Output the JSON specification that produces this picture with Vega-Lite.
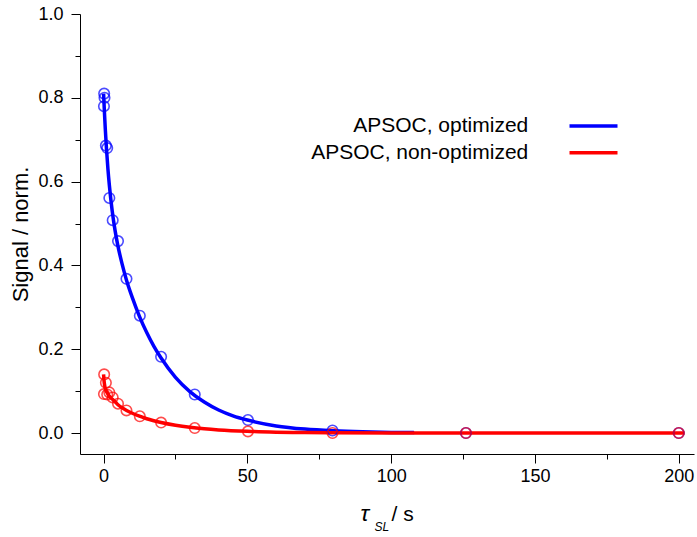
{
  "$schema": "https://vega.github.io/schema/vega-lite/v6.json",
  "autosize": {"type": "none"},
  "padding": {"left": 80, "top": 14, "right": 3, "bottom": 83},
  "width": 614,
  "height": 440,
  "background": "white",
  "config": {
    "view": {"stroke": null},
    "font": "Liberation Sans",
    "axis": {
      "domainColor": "black", "tickColor": "black", "labelColor": "black", "titleColor": "black",
      "labelFont": "Liberation Sans", "titleFont": "Liberation Sans",
      "labelFontSize": 18, "titleFontSize": 21, "titleFontWeight": "normal",
      "grid": false, "domainWidth": 1, "tickWidth": 1
    }
  },
  "datasets": {
    "fit": [
      {"t": 0, "v": 0.81, "series": "APSOC, optimized"},
      {"t": 0.3, "v": 0.765, "series": "APSOC, optimized"},
      {"t": 0.6, "v": 0.725, "series": "APSOC, optimized"},
      {"t": 1, "v": 0.679, "series": "APSOC, optimized"},
      {"t": 1.5, "v": 0.631, "series": "APSOC, optimized"},
      {"t": 2, "v": 0.592, "series": "APSOC, optimized"},
      {"t": 3, "v": 0.53, "series": "APSOC, optimized"},
      {"t": 4, "v": 0.483, "series": "APSOC, optimized"},
      {"t": 5, "v": 0.446, "series": "APSOC, optimized"},
      {"t": 6.5, "v": 0.402, "series": "APSOC, optimized"},
      {"t": 8, "v": 0.364, "series": "APSOC, optimized"},
      {"t": 10, "v": 0.323, "series": "APSOC, optimized"},
      {"t": 12.5, "v": 0.278, "series": "APSOC, optimized"},
      {"t": 15, "v": 0.24, "series": "APSOC, optimized"},
      {"t": 17.5, "v": 0.207, "series": "APSOC, optimized"},
      {"t": 20, "v": 0.179, "series": "APSOC, optimized"},
      {"t": 25, "v": 0.133, "series": "APSOC, optimized"},
      {"t": 30, "v": 0.099, "series": "APSOC, optimized"},
      {"t": 35, "v": 0.074, "series": "APSOC, optimized"},
      {"t": 40, "v": 0.055, "series": "APSOC, optimized"},
      {"t": 45, "v": 0.041, "series": "APSOC, optimized"},
      {"t": 50, "v": 0.031, "series": "APSOC, optimized"},
      {"t": 60, "v": 0.017, "series": "APSOC, optimized"},
      {"t": 70, "v": 0.0094, "series": "APSOC, optimized"},
      {"t": 80, "v": 0.0053, "series": "APSOC, optimized"},
      {"t": 90, "v": 0.0029, "series": "APSOC, optimized"},
      {"t": 100, "v": 0.0016, "series": "APSOC, optimized"},
      {"t": 108, "v": 0.001, "series": "APSOC, optimized"},
      {"t": 0, "v": 0.14, "series": "APSOC, non-optimized"},
      {"t": 0.15, "v": 0.126, "series": "APSOC, non-optimized"},
      {"t": 0.3, "v": 0.117, "series": "APSOC, non-optimized"},
      {"t": 0.6, "v": 0.1065, "series": "APSOC, non-optimized"},
      {"t": 1, "v": 0.099, "series": "APSOC, non-optimized"},
      {"t": 1.5, "v": 0.093, "series": "APSOC, non-optimized"},
      {"t": 2, "v": 0.088, "series": "APSOC, non-optimized"},
      {"t": 3, "v": 0.081, "series": "APSOC, non-optimized"},
      {"t": 4, "v": 0.0748, "series": "APSOC, non-optimized"},
      {"t": 5, "v": 0.0675, "series": "APSOC, non-optimized"},
      {"t": 6.5, "v": 0.06, "series": "APSOC, non-optimized"},
      {"t": 8, "v": 0.054, "series": "APSOC, non-optimized"},
      {"t": 10, "v": 0.0473, "series": "APSOC, non-optimized"},
      {"t": 12.5, "v": 0.0402, "series": "APSOC, non-optimized"},
      {"t": 15, "v": 0.0342, "series": "APSOC, non-optimized"},
      {"t": 20, "v": 0.0253, "series": "APSOC, non-optimized"},
      {"t": 25, "v": 0.0187, "series": "APSOC, non-optimized"},
      {"t": 30, "v": 0.0138, "series": "APSOC, non-optimized"},
      {"t": 35, "v": 0.0102, "series": "APSOC, non-optimized"},
      {"t": 40, "v": 0.0075, "series": "APSOC, non-optimized"},
      {"t": 50, "v": 0.0041, "series": "APSOC, non-optimized"},
      {"t": 60, "v": 0.0022, "series": "APSOC, non-optimized"},
      {"t": 70, "v": 0.0012, "series": "APSOC, non-optimized"},
      {"t": 80, "v": 0.0007, "series": "APSOC, non-optimized"},
      {"t": 100, "v": 0.0002, "series": "APSOC, non-optimized"},
      {"t": 120, "v": 0.0001, "series": "APSOC, non-optimized"},
      {"t": 150, "v": 0, "series": "APSOC, non-optimized"},
      {"t": 202, "v": 0, "series": "APSOC, non-optimized"}
    ],
    "obsBlue": [
      {"t": 0.13, "v": 0.78, "series": "APSOC, optimized"},
      {"t": 0.2, "v": 0.81, "series": "APSOC, optimized"},
      {"t": 0.32, "v": 0.8, "series": "APSOC, optimized"},
      {"t": 0.8, "v": 0.686, "series": "APSOC, optimized"},
      {"t": 1.26, "v": 0.68, "series": "APSOC, optimized"},
      {"t": 2.0, "v": 0.561, "series": "APSOC, optimized"},
      {"t": 3.17, "v": 0.508, "series": "APSOC, optimized"},
      {"t": 5.02, "v": 0.458, "series": "APSOC, optimized"},
      {"t": 7.96, "v": 0.368, "series": "APSOC, optimized"},
      {"t": 12.6, "v": 0.28, "series": "APSOC, optimized"},
      {"t": 20.0, "v": 0.182, "series": "APSOC, optimized"},
      {"t": 31.7, "v": 0.092, "series": "APSOC, optimized"},
      {"t": 50.2, "v": 0.031, "series": "APSOC, optimized"},
      {"t": 79.6, "v": 0.006, "series": "APSOC, optimized"},
      {"t": 126, "v": 0.0, "series": "APSOC, optimized"},
      {"t": 200, "v": 0.0, "series": "APSOC, optimized"}
    ],
    "obsRed": [
      {"t": 0.13, "v": 0.093, "series": "APSOC, non-optimized"},
      {"t": 0.2, "v": 0.14, "series": "APSOC, non-optimized"},
      {"t": 0.8, "v": 0.12, "series": "APSOC, non-optimized"},
      {"t": 1.26, "v": 0.092, "series": "APSOC, non-optimized"},
      {"t": 2.0, "v": 0.097, "series": "APSOC, non-optimized"},
      {"t": 3.17, "v": 0.085, "series": "APSOC, non-optimized"},
      {"t": 5.02, "v": 0.07, "series": "APSOC, non-optimized"},
      {"t": 7.96, "v": 0.054, "series": "APSOC, non-optimized"},
      {"t": 12.6, "v": 0.04, "series": "APSOC, non-optimized"},
      {"t": 20.0, "v": 0.025, "series": "APSOC, non-optimized"},
      {"t": 31.7, "v": 0.012, "series": "APSOC, non-optimized"},
      {"t": 50.2, "v": 0.004, "series": "APSOC, non-optimized"},
      {"t": 79.6, "v": 0.0, "series": "APSOC, non-optimized"},
      {"t": 126, "v": 0.0, "series": "APSOC, non-optimized"},
      {"t": 200, "v": 0.0, "series": "APSOC, non-optimized"}
    ]
  },
  "layer": [
    {
      "mark": {"type": "rule", "color": "black", "strokeWidth": 1},
      "encoding": {
        "y": {"datum": 0, "type": "quantitative", "scale": {"domain": [-0.05, 1.0], "nice": false, "zero": false}, "axis": null}
      }
    },
    {
      "data": {"name": "fit"},
      "mark": {"type": "line", "strokeWidth": 3.5, "interpolate": "monotone"},
      "encoding": {
        "x": {"field": "t", "type": "quantitative", "scale": {"domain": [-8.2, 205.3], "nice": false, "zero": false},
          "axis": {"orient": "bottom", "values": [0, 50, 100, 150, 200], "format": "d", "tickSize": 9, "labelPadding": 4,
            "title": "τ", "titleFontStyle": "italic", "titleFontSize": 23, "titleAlign": "left", "titleBaseline": "alphabetic", "titleX": 280, "titleY": 66.7, "titleAnchor": "start"}},
        "y": {"field": "v", "type": "quantitative",
          "axis": {"orient": "left", "values": [0, 0.2, 0.4, 0.6, 0.8, 1.0], "format": ".1f", "tickSize": 9, "labelPadding": 8,
            "title": "Signal / norm.", "titleFontSize": 22, "titlePadding": 5}},
        "color": {"field": "series", "type": "nominal",
          "scale": {"domain": ["APSOC, optimized", "APSOC, non-optimized"], "range": ["#0000ff", "#ff0000"]},
          "sort": ["APSOC, optimized", "APSOC, non-optimized"],
          "legend": {"orient": "none", "legendX": 503, "legendY": 101.5, "title": null, "symbolType": "M-4,0H4", "symbolSize": 144,
            "symbolStrokeWidth": 3.5, "symbolOpacity": 1, "labelFontSize": 21, "labelFont": "Liberation Sans", "labelColor": "black", "labelAlign": "right",
            "labelOffset": -75.75, "rowPadding": 4.7, "labelLimit": 400}}
      }
    },
    {
      "data": {"name": "obsBlue"},
      "mark": {"type": "point", "shape": "circle", "filled": false, "size": 110, "strokeWidth": 1.6},
      "encoding": {
        "x": {"field": "t", "type": "quantitative",
          "axis": {"orient": "bottom", "values": [25, 75, 125, 175], "tickSize": 5, "labels": false, "domain": false,
            "title": "SL", "titleFontStyle": "italic", "titleFontSize": 12, "titleAlign": "left", "titleBaseline": "alphabetic", "titleX": 294, "titleY": 76, "titleAnchor": "start"}},
        "y": {"field": "v", "type": "quantitative",
          "axis": {"orient": "left", "values": [0.1, 0.3, 0.5, 0.7, 0.9], "tickSize": 5, "labels": false, "domain": false, "title": null}},
        "stroke": {"field": "series", "type": "nominal",
          "scale": {"domain": ["APSOC, optimized", "APSOC, non-optimized"], "range": ["#0000ff", "#ff0000"]}, "legend": null}
      }
    },
    {
      "data": {"name": "obsRed"},
      "mark": {"type": "point", "shape": "circle", "filled": false, "size": 110, "strokeWidth": 1.6},
      "encoding": {
        "x": {"field": "t", "type": "quantitative",
          "axis": {"orient": "bottom", "values": [], "ticks": false, "labels": false, "domain": false,
            "title": "/ s", "titleFontSize": 21, "titleAlign": "left", "titleBaseline": "alphabetic", "titleX": 311, "titleY": 66.7, "titleAnchor": "start"}},
        "y": {"field": "v", "type": "quantitative", "axis": null},
        "stroke": {"field": "series", "type": "nominal",
          "scale": {"domain": ["APSOC, optimized", "APSOC, non-optimized"], "range": ["#0000ff", "#ff0000"]}, "legend": null}
      }
    }
  ],
  "resolve": {"axis": {"x": "independent", "y": "independent"}}
}
